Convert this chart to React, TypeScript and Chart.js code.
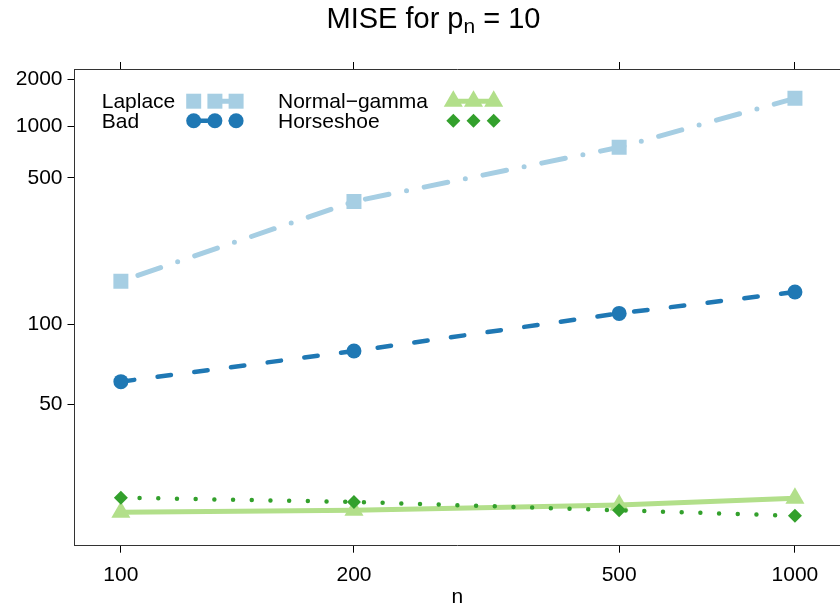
import React, { useEffect, useRef } from "react";
import { Chart, registerables } from "chart.js";

Chart.register(...registerables);

// ---- data ----
const N_VALUES = [100, 200, 500, 1000];
const LAPLACE = [153, 373, 746, 1497];
const BAD = [60.1, 78.3, 111, 137];
const NORMAL_GAMMA = [23.0, 23.3, 24.1, 25.2];
const HORSESHOE = [25.3, 24.6, 23.3, 22.5];

const X_TICKS = [100, 200, 500, 1000];
const Y_TICKS = [50, 100, 500, 1000, 2000];
const X_LIMITS = [88.1, 1209];
const Y_LIMITS = [18.7, 2353];

const SERIES_NAMES = ["Laplace", "Bad", "Normal\u2212gamma", "Horseshoe"];
const TITLE_MAIN = "MISE for p";
const TITLE_SUB = "n";
const TITLE_TAIL = " = 10";
const X_TITLE = "n";

const FONT = "'Liberation Sans', Arial, Helvetica, sans-serif";

// double-log transform: axis position = ln(log10(value))
const tx = (v: number) => Math.log(Math.log10(v));
const toPoints = (ys: number[]) => N_VALUES.map((n, i) => ({ x: tx(n), y: tx(ys[i]) }));

type Marker = "rect" | "circle" | "triangle" | "rectRot";

function drawMarker(ctx: CanvasRenderingContext2D, style: Marker, x: number, y: number, r: number, color: string) {
  ctx.save();
  ctx.fillStyle = color;
  ctx.beginPath();
  if (style === "rect") {
    const s = Math.SQRT1_2 * r;
    ctx.rect(x - s, y - s, 2 * s, 2 * s);
  } else if (style === "circle") {
    ctx.arc(x, y, r, 0, Math.PI * 2);
  } else if (style === "triangle") {
    let rad = 0;
    ctx.moveTo(x + Math.sin(rad) * r, y - Math.cos(rad) * r);
    rad += (2 * Math.PI) / 3;
    ctx.lineTo(x + Math.sin(rad) * r, y - Math.cos(rad) * r);
    rad += (2 * Math.PI) / 3;
    ctx.lineTo(x + Math.sin(rad) * r, y - Math.cos(rad) * r);
    ctx.closePath();
  } else {
    ctx.moveTo(x - r, y);
    ctx.lineTo(x, y - r);
    ctx.lineTo(x + r, y);
    ctx.lineTo(x, y + r);
    ctx.closePath();
  }
  ctx.fill();
  ctx.restore();
}

const overlayPlugin = {
  id: "overlay",
  afterDraw(chart: any) {
    const ctx: CanvasRenderingContext2D = chart.ctx;
    ctx.save();
    // title with subscript
    ctx.fillStyle = "#000";
    ctx.textBaseline = "alphabetic";
    ctx.textAlign = "left";
    const mainFont = `29px ${FONT}`;
    const subFont = `21px ${FONT}`;
    ctx.font = mainFont;
    const wa = ctx.measureText(TITLE_MAIN).width;
    const wc = ctx.measureText(TITLE_TAIL).width;
    ctx.font = subFont;
    const wb = ctx.measureText(TITLE_SUB).width;
    let x = 433.5 - (wa + wb + wc) / 2;
    const base = 28.3;
    ctx.font = mainFont;
    ctx.fillText(TITLE_MAIN, x, base);
    x += wa;
    ctx.font = subFont;
    ctx.fillText(TITLE_SUB, x, base + 5);
    x += wb;
    ctx.font = mainFont;
    ctx.fillText(TITLE_TAIL, x, base);

    // legend, two columns
    const colText = [101.7, 278];
    const colMark = [193.7, 453.3];
    const colStep = [21.2, 20.2];
    const rowMark = [101.2, 120.7];
    const rowBase = [108.3, 128.3];
    ctx.font = `21px ${FONT}`;
    chart.data.datasets.forEach((ds: any, i: number) => {
      const col = Math.floor(i / 2);
      const row = i % 2;
      ctx.fillStyle = "#000";
      ctx.fillText(ds.label, colText[col], rowBase[row]);
      const x0 = colMark[col];
      const x2 = x0 + 2 * colStep[col];
      const y = rowMark[row];
      ctx.save();
      ctx.strokeStyle = ds.borderColor;
      ctx.lineWidth = ds.borderWidth;
      ctx.lineCap = "round";
      ctx.setLineDash(ds.borderDash || []);
      ctx.beginPath();
      ctx.moveTo(x0, y);
      ctx.lineTo(x2, y);
      ctx.stroke();
      ctx.restore();
      for (let k = 0; k < 3; k++) {
        drawMarker(ctx, ds.pointStyle, x0 + k * colStep[col], y, ds.pointRadius, ds.pointBackgroundColor);
      }
    });
    ctx.restore();
  },
};

export default function App() {
  const ref = useRef<HTMLCanvasElement | null>(null);

  useEffect(() => {
    if (!ref.current) return;
    const tickFont = { family: FONT, size: 21 };
    const gridOpts = { drawOnChartArea: false, drawTicks: true, tickLength: 7, color: "#000", lineWidth: 1 };
    const borderOpts = { display: true, color: "#333", width: 1 };
    const xTicksBuild = (s: any) => {
      s.ticks = X_TICKS.map((v) => ({ value: tx(v) }));
    };
    const noPad = (s: any) => {
      s.paddingLeft = 0;
      s.paddingRight = 0;
      s.paddingTop = 0;
      s.paddingBottom = 0;
    };
    const chart = new Chart(ref.current, {
      type: "line",
      data: {
        datasets: [
          {
            label: SERIES_NAMES[0],
            data: toPoints(LAPLACE),
            borderColor: "#A6CEE3",
            backgroundColor: "#A6CEE3",
            borderWidth: 5,
            borderDash: [0, 18, 24, 18],
            borderCapStyle: "round",
            pointStyle: "rect",
            pointRadius: 10.6,
            pointBackgroundColor: "#A6CEE3",
            pointBorderWidth: 0,
            order: 3,
          },
          {
            label: SERIES_NAMES[1],
            data: toPoints(BAD),
            borderColor: "#1F78B4",
            backgroundColor: "#1F78B4",
            borderWidth: 4.5,
            borderDash: [13.5, 23.5],
            borderCapStyle: "round",
            pointStyle: "circle",
            pointRadius: 7.5,
            pointBackgroundColor: "#1F78B4",
            pointBorderWidth: 0,
            order: 2,
          },
          {
            label: SERIES_NAMES[2],
            data: toPoints(NORMAL_GAMMA),
            borderColor: "#B2DF8A",
            backgroundColor: "#B2DF8A",
            borderWidth: 5,
            borderDash: [],
            borderCapStyle: "round",
            pointStyle: "triangle",
            pointRadius: 11,
            pointBackgroundColor: "#B2DF8A",
            pointBorderWidth: 0,
            order: 1,
          },
          {
            label: SERIES_NAMES[3],
            data: toPoints(HORSESHOE),
            borderColor: "#33A02C",
            backgroundColor: "#33A02C",
            borderWidth: 4.5,
            borderDash: [0, 18.7],
            borderCapStyle: "round",
            pointStyle: "rectRot",
            pointRadius: 7,
            pointBackgroundColor: "#33A02C",
            pointBorderWidth: 0,
            order: 0,
          },
        ] as any,
      },
      options: {
        animation: false,
        responsive: false,
        devicePixelRatio: 1,
        layout: { padding: 0, autoPadding: false },
        plugins: { legend: { display: false }, title: { display: false }, tooltip: { enabled: false } },
        elements: { line: { tension: 0 } },
        scales: {
          x: {
            type: "linear",
            position: "bottom",
            min: tx(X_LIMITS[0]),
            max: tx(X_LIMITS[1]),
            afterBuildTicks: xTicksBuild,
            afterFit: (s: any) => {
              s.height = 64.3;
              noPad(s);
            },
            ticks: {
              callback: (_v: any, i: number) => String(X_TICKS[i]),
              font: tickFont,
              color: "#000",
              padding: 10,
              maxRotation: 0,
              autoSkip: false,
            },
            grid: gridOpts,
            border: borderOpts,
            title: { display: true, text: X_TITLE, font: tickFont, color: "#000", padding: { top: 0, bottom: 0 } },
          },
          x2: {
            type: "linear",
            position: "top",
            min: tx(X_LIMITS[0]),
            max: tx(X_LIMITS[1]),
            afterBuildTicks: xTicksBuild,
            afterFit: (s: any) => {
              s.height = 69;
              noPad(s);
            },
            ticks: { display: false },
            grid: gridOpts,
            border: borderOpts,
          },
          y: {
            type: "linear",
            position: "left",
            min: tx(Y_LIMITS[0]),
            max: tx(Y_LIMITS[1]),
            afterBuildTicks: (s: any) => {
              s.ticks = Y_TICKS.map((v) => ({ value: tx(v) }));
            },
            afterFit: (s: any) => {
              s.width = 74.5;
              noPad(s);
            },
            ticks: {
              callback: (_v: any, i: number) => String(Y_TICKS[i]),
              font: tickFont,
              color: "#000",
              padding: 5,
              autoSkip: false,
            },
            grid: gridOpts,
            border: borderOpts,
          },
        },
      } as any,
      plugins: [overlayPlugin],
    });
    return () => chart.destroy();
  }, []);

  return (
    <div style={{ position: "fixed", left: 0, top: 0, width: 840, height: 610, background: "#fff", overflow: "hidden" }}>
      <canvas ref={ref} width={840} height={610} style={{ width: 840, height: 610, display: "block" }} />
    </div>
  );
}
